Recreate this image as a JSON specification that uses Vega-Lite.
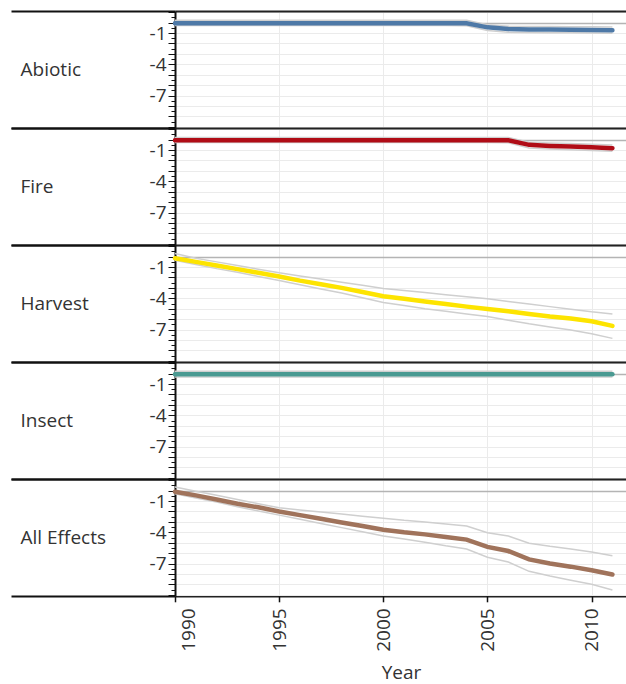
{
  "$schema": "https://vega.github.io/schema/vega-lite/v6.json",
  "padding": {"top": 10, "left": 9, "right": 0, "bottom": 0},
  "background": "white",
  "spacing": 0,
  "bounds": "flush",
  "config": {"view": {"stroke": null}, "concat": {"spacing": 0}},
  "data": {"values": [
    {"effect": "Abiotic", "year": 1990, "value": -0.05, "upper": 0.22, "lower": -0.28},
    {"effect": "Abiotic", "year": 1991, "value": -0.05, "upper": 0.22, "lower": -0.28},
    {"effect": "Abiotic", "year": 1992, "value": -0.05, "upper": 0.22, "lower": -0.28},
    {"effect": "Abiotic", "year": 1993, "value": -0.05, "upper": 0.22, "lower": -0.28},
    {"effect": "Abiotic", "year": 1994, "value": -0.05, "upper": 0.22, "lower": -0.28},
    {"effect": "Abiotic", "year": 1995, "value": -0.05, "upper": 0.22, "lower": -0.28},
    {"effect": "Abiotic", "year": 1996, "value": -0.05, "upper": 0.22, "lower": -0.28},
    {"effect": "Abiotic", "year": 1997, "value": -0.05, "upper": 0.22, "lower": -0.28},
    {"effect": "Abiotic", "year": 1998, "value": -0.05, "upper": 0.22, "lower": -0.28},
    {"effect": "Abiotic", "year": 1999, "value": -0.05, "upper": 0.22, "lower": -0.28},
    {"effect": "Abiotic", "year": 2000, "value": -0.05, "upper": 0.22, "lower": -0.28},
    {"effect": "Abiotic", "year": 2001, "value": -0.05, "upper": 0.22, "lower": -0.28},
    {"effect": "Abiotic", "year": 2002, "value": -0.05, "upper": 0.22, "lower": -0.28},
    {"effect": "Abiotic", "year": 2003, "value": -0.05, "upper": 0.22, "lower": -0.28},
    {"effect": "Abiotic", "year": 2004, "value": -0.05, "upper": 0.22, "lower": -0.3},
    {"effect": "Abiotic", "year": 2005, "value": -0.45, "upper": -0.2, "lower": -0.75},
    {"effect": "Abiotic", "year": 2006, "value": -0.62, "upper": -0.35, "lower": -0.92},
    {"effect": "Abiotic", "year": 2007, "value": -0.65, "upper": -0.37, "lower": -0.95},
    {"effect": "Abiotic", "year": 2008, "value": -0.66, "upper": -0.38, "lower": -0.96},
    {"effect": "Abiotic", "year": 2009, "value": -0.68, "upper": -0.39, "lower": -0.98},
    {"effect": "Abiotic", "year": 2010, "value": -0.7, "upper": -0.4, "lower": -1.0},
    {"effect": "Abiotic", "year": 2011, "value": -0.72, "upper": -0.42, "lower": -1.02},
    {"effect": "Fire", "year": 1990, "value": -0.05, "upper": 0.2, "lower": -0.28},
    {"effect": "Fire", "year": 1991, "value": -0.05, "upper": 0.2, "lower": -0.28},
    {"effect": "Fire", "year": 1992, "value": -0.05, "upper": 0.2, "lower": -0.28},
    {"effect": "Fire", "year": 1993, "value": -0.05, "upper": 0.2, "lower": -0.28},
    {"effect": "Fire", "year": 1994, "value": -0.05, "upper": 0.2, "lower": -0.28},
    {"effect": "Fire", "year": 1995, "value": -0.05, "upper": 0.2, "lower": -0.28},
    {"effect": "Fire", "year": 1996, "value": -0.05, "upper": 0.2, "lower": -0.28},
    {"effect": "Fire", "year": 1997, "value": -0.05, "upper": 0.2, "lower": -0.28},
    {"effect": "Fire", "year": 1998, "value": -0.05, "upper": 0.2, "lower": -0.28},
    {"effect": "Fire", "year": 1999, "value": -0.05, "upper": 0.2, "lower": -0.28},
    {"effect": "Fire", "year": 2000, "value": -0.05, "upper": 0.2, "lower": -0.28},
    {"effect": "Fire", "year": 2001, "value": -0.05, "upper": 0.2, "lower": -0.28},
    {"effect": "Fire", "year": 2002, "value": -0.05, "upper": 0.2, "lower": -0.28},
    {"effect": "Fire", "year": 2003, "value": -0.05, "upper": 0.2, "lower": -0.28},
    {"effect": "Fire", "year": 2004, "value": -0.05, "upper": 0.2, "lower": -0.28},
    {"effect": "Fire", "year": 2005, "value": -0.05, "upper": 0.2, "lower": -0.28},
    {"effect": "Fire", "year": 2006, "value": -0.05, "upper": 0.2, "lower": -0.3},
    {"effect": "Fire", "year": 2007, "value": -0.5, "upper": -0.25, "lower": -0.8},
    {"effect": "Fire", "year": 2008, "value": -0.6, "upper": -0.33, "lower": -0.9},
    {"effect": "Fire", "year": 2009, "value": -0.66, "upper": -0.38, "lower": -0.97},
    {"effect": "Fire", "year": 2010, "value": -0.74, "upper": -0.45, "lower": -1.05},
    {"effect": "Fire", "year": 2011, "value": -0.82, "upper": -0.52, "lower": -1.12},
    {"effect": "Harvest", "year": 1990, "value": -0.15, "upper": 0.3, "lower": -0.35},
    {"effect": "Harvest", "year": 1991, "value": -0.5, "upper": -0.15, "lower": -0.75},
    {"effect": "Harvest", "year": 1992, "value": -0.85, "upper": -0.5, "lower": -1.15},
    {"effect": "Harvest", "year": 1993, "value": -1.2, "upper": -0.85, "lower": -1.5},
    {"effect": "Harvest", "year": 1994, "value": -1.55, "upper": -1.2, "lower": -1.9},
    {"effect": "Harvest", "year": 1995, "value": -1.9, "upper": -1.55, "lower": -2.3},
    {"effect": "Harvest", "year": 1996, "value": -2.3, "upper": -1.85, "lower": -2.7},
    {"effect": "Harvest", "year": 1997, "value": -2.65, "upper": -2.15, "lower": -3.1},
    {"effect": "Harvest", "year": 1998, "value": -3.0, "upper": -2.45, "lower": -3.5},
    {"effect": "Harvest", "year": 1999, "value": -3.4, "upper": -2.75, "lower": -3.95},
    {"effect": "Harvest", "year": 2000, "value": -3.8, "upper": -3.05, "lower": -4.4},
    {"effect": "Harvest", "year": 2001, "value": -4.05, "upper": -3.25, "lower": -4.7},
    {"effect": "Harvest", "year": 2002, "value": -4.3, "upper": -3.45, "lower": -5.0},
    {"effect": "Harvest", "year": 2003, "value": -4.55, "upper": -3.65, "lower": -5.25},
    {"effect": "Harvest", "year": 2004, "value": -4.8, "upper": -3.85, "lower": -5.5},
    {"effect": "Harvest", "year": 2005, "value": -5.02, "upper": -4.05, "lower": -5.75},
    {"effect": "Harvest", "year": 2006, "value": -5.25, "upper": -4.3, "lower": -6.1},
    {"effect": "Harvest", "year": 2007, "value": -5.5, "upper": -4.55, "lower": -6.45},
    {"effect": "Harvest", "year": 2008, "value": -5.75, "upper": -4.8, "lower": -6.75},
    {"effect": "Harvest", "year": 2009, "value": -5.95, "upper": -5.05, "lower": -7.05},
    {"effect": "Harvest", "year": 2010, "value": -6.2, "upper": -5.3, "lower": -7.4},
    {"effect": "Harvest", "year": 2011, "value": -6.65, "upper": -5.5, "lower": -7.85},
    {"effect": "Insect", "year": 1990, "value": -0.05, "upper": 0.22, "lower": -0.32},
    {"effect": "Insect", "year": 1991, "value": -0.05, "upper": 0.22, "lower": -0.32},
    {"effect": "Insect", "year": 1992, "value": -0.05, "upper": 0.22, "lower": -0.32},
    {"effect": "Insect", "year": 1993, "value": -0.05, "upper": 0.22, "lower": -0.32},
    {"effect": "Insect", "year": 1994, "value": -0.05, "upper": 0.22, "lower": -0.32},
    {"effect": "Insect", "year": 1995, "value": -0.05, "upper": 0.22, "lower": -0.32},
    {"effect": "Insect", "year": 1996, "value": -0.05, "upper": 0.22, "lower": -0.32},
    {"effect": "Insect", "year": 1997, "value": -0.05, "upper": 0.22, "lower": -0.32},
    {"effect": "Insect", "year": 1998, "value": -0.05, "upper": 0.22, "lower": -0.32},
    {"effect": "Insect", "year": 1999, "value": -0.05, "upper": 0.22, "lower": -0.32},
    {"effect": "Insect", "year": 2000, "value": -0.05, "upper": 0.22, "lower": -0.32},
    {"effect": "Insect", "year": 2001, "value": -0.05, "upper": 0.22, "lower": -0.32},
    {"effect": "Insect", "year": 2002, "value": -0.05, "upper": 0.22, "lower": -0.32},
    {"effect": "Insect", "year": 2003, "value": -0.05, "upper": 0.22, "lower": -0.32},
    {"effect": "Insect", "year": 2004, "value": -0.05, "upper": 0.22, "lower": -0.32},
    {"effect": "Insect", "year": 2005, "value": -0.05, "upper": 0.22, "lower": -0.32},
    {"effect": "Insect", "year": 2006, "value": -0.05, "upper": 0.22, "lower": -0.32},
    {"effect": "Insect", "year": 2007, "value": -0.05, "upper": 0.22, "lower": -0.32},
    {"effect": "Insect", "year": 2008, "value": -0.05, "upper": 0.22, "lower": -0.32},
    {"effect": "Insect", "year": 2009, "value": -0.05, "upper": 0.22, "lower": -0.32},
    {"effect": "Insect", "year": 2010, "value": -0.05, "upper": 0.22, "lower": -0.32},
    {"effect": "Insect", "year": 2011, "value": -0.05, "upper": 0.22, "lower": -0.32},
    {"effect": "All Effects", "year": 1990, "value": -0.1, "upper": 0.35, "lower": -0.3},
    {"effect": "All Effects", "year": 1991, "value": -0.45, "upper": -0.05, "lower": -0.7},
    {"effect": "All Effects", "year": 1992, "value": -0.85, "upper": -0.45, "lower": -1.1},
    {"effect": "All Effects", "year": 1993, "value": -1.25, "upper": -0.85, "lower": -1.55},
    {"effect": "All Effects", "year": 1994, "value": -1.6, "upper": -1.25, "lower": -1.95},
    {"effect": "All Effects", "year": 1995, "value": -2.0, "upper": -1.65, "lower": -2.35},
    {"effect": "All Effects", "year": 1996, "value": -2.35, "upper": -1.85, "lower": -2.75},
    {"effect": "All Effects", "year": 1997, "value": -2.7, "upper": -2.05, "lower": -3.15},
    {"effect": "All Effects", "year": 1998, "value": -3.05, "upper": -2.25, "lower": -3.55},
    {"effect": "All Effects", "year": 1999, "value": -3.4, "upper": -2.45, "lower": -3.95},
    {"effect": "All Effects", "year": 2000, "value": -3.75, "upper": -2.65, "lower": -4.35},
    {"effect": "All Effects", "year": 2001, "value": -4.0, "upper": -2.85, "lower": -4.65},
    {"effect": "All Effects", "year": 2002, "value": -4.2, "upper": -3.0, "lower": -4.95},
    {"effect": "All Effects", "year": 2003, "value": -4.45, "upper": -3.2, "lower": -5.3},
    {"effect": "All Effects", "year": 2004, "value": -4.7, "upper": -3.4, "lower": -5.6},
    {"effect": "All Effects", "year": 2005, "value": -5.4, "upper": -4.05, "lower": -6.4},
    {"effect": "All Effects", "year": 2006, "value": -5.8, "upper": -4.35, "lower": -6.85},
    {"effect": "All Effects", "year": 2007, "value": -6.6, "upper": -5.05, "lower": -7.75},
    {"effect": "All Effects", "year": 2008, "value": -7.0, "upper": -5.35, "lower": -8.2},
    {"effect": "All Effects", "year": 2009, "value": -7.3, "upper": -5.6, "lower": -8.6},
    {"effect": "All Effects", "year": 2010, "value": -7.65, "upper": -5.9, "lower": -9.0},
    {"effect": "All Effects", "year": 2011, "value": -8.05, "upper": -6.25, "lower": -9.55}
  ]},
  "vconcat": [
    {
      "width": 452, "height": 116.8,
      "transform": [{"filter": "datum.effect === 'Abiotic'"}, {"fold": ["value", "lower", "upper"], "as": ["series", "v"]}],
      "encoding": {
        "x": {"field": "year", "type": "quantitative", "scale": {"domain": [1990, 2011.7], "nice": false, "zero": false},
          "axis": {"values": [1995, 2000, 2005, 2010], "labels": false, "ticks": false, "domain": false, "title": null, "grid": true, "gridColor": "#ebebeb", "minExtent": 0, "maxExtent": 0}},
        "y": {"field": "v", "type": "quantitative", "scale": {"domain": [-10.1, 1.12], "nice": false, "zero": false},
          "axis": {"title": "Abiotic", "titleAngle": 0, "titleAlign": "left", "titleBaseline": "middle", "titleX": -155, "titleY": 58, "titleFont": "Open Sans", "titleFontSize": 19, "titleFontWeight": "normal", "titleColor": "#333333",
            "values": [1.12, 1, 0.5, 0, -0.5, -1, -1.5, -2, -2.5, -3, -3.5, -4, -4.5, -5, -5.5, -6, -6.5, -7, -7.5, -8, -8.5, -9, -9.5, -10, -10.1],
            "labelExpr": "datum.value === -1 || datum.value === -4 || datum.value === -7 ? '-' + abs(datum.value) : ''",
            "labelFontSize": {"condition": {"test": "datum.value === -1 || datum.value === -4 || datum.value === -7", "value": 19}, "value": 0},
            "labelFont": "Open Sans", "labelColor": "#333333", "labelPadding": 2, "labelOverlap": false, "labelFlush": false,
            "domain": true, "domainColor": "#111111", "domainWidth": 2, "ticks": true, "tickColor": "#111111",
            "tickSize": {"condition": [{"test": "datum.value > 1.1 || datum.value < -10.05", "value": 164}, {"test": "datum.value % 1 === 0", "value": 7}], "value": 4},
            "tickWidth": {"condition": {"test": "datum.value > 1.1 || datum.value < -10.05", "value": 2}, "value": 1},
            "grid": true,
            "gridColor": {"condition": [{"test": "datum.value > 1.1 || datum.value < -10.05", "value": "#222222"}, {"test": "datum.value === 0", "value": "#b4b4b4"}], "value": "#ebebeb"},
            "gridWidth": {"condition": [{"test": "datum.value > 1.1 || datum.value < -10.05", "value": 2}, {"test": "datum.value === 0", "value": 1.5}], "value": 1},
            "gridOpacity": {"condition": {"test": "datum.value % 1 === 0 || datum.value > 1.1 || datum.value < -10.05", "value": 1}, "value": 0}}}
      },
      "layer": [
        {"transform": [{"filter": "datum.series !== 'value'"}], "mark": {"type": "line", "color": "#cfcfcf", "strokeWidth": 1.5}, "encoding": {"detail": {"field": "series"}}},
        {"transform": [{"filter": "datum.series === 'value'"}], "mark": {"type": "line", "strokeWidth": 4.5, "strokeCap": "round"},
          "encoding": {"color": {"field": "effect", "type": "nominal", "scale": {"domain": ["Abiotic", "Fire", "Harvest", "Insect", "All Effects"], "range": ["#4e79a7", "#b00c16", "#fde400", "#4a9a92", "#a0735b"]}, "legend": null}}}
      ]
    },
    {
      "width": 452, "height": 116.8,
      "transform": [{"filter": "datum.effect === 'Fire'"}, {"fold": ["value", "lower", "upper"], "as": ["series", "v"]}],
      "encoding": {
        "x": {"field": "year", "type": "quantitative", "scale": {"domain": [1990, 2011.7], "nice": false, "zero": false},
          "axis": {"values": [1995, 2000, 2005, 2010], "labels": false, "ticks": false, "domain": false, "title": null, "grid": true, "gridColor": "#ebebeb", "minExtent": 0, "maxExtent": 0}},
        "y": {"field": "v", "type": "quantitative", "scale": {"domain": [-10.1, 1.12], "nice": false, "zero": false},
          "axis": {"title": "Fire", "titleAngle": 0, "titleAlign": "left", "titleBaseline": "middle", "titleX": -155, "titleY": 58, "titleFont": "Open Sans", "titleFontSize": 19, "titleFontWeight": "normal", "titleColor": "#333333",
            "values": [1.12, 1, 0.5, 0, -0.5, -1, -1.5, -2, -2.5, -3, -3.5, -4, -4.5, -5, -5.5, -6, -6.5, -7, -7.5, -8, -8.5, -9, -9.5, -10, -10.1],
            "labelExpr": "datum.value === -1 || datum.value === -4 || datum.value === -7 ? '-' + abs(datum.value) : ''",
            "labelFontSize": {"condition": {"test": "datum.value === -1 || datum.value === -4 || datum.value === -7", "value": 19}, "value": 0},
            "labelFont": "Open Sans", "labelColor": "#333333", "labelPadding": 2, "labelOverlap": false, "labelFlush": false,
            "domain": true, "domainColor": "#111111", "domainWidth": 2, "ticks": true, "tickColor": "#111111",
            "tickSize": {"condition": [{"test": "datum.value > 1.1 || datum.value < -10.05", "value": 164}, {"test": "datum.value % 1 === 0", "value": 7}], "value": 4},
            "tickWidth": {"condition": {"test": "datum.value > 1.1 || datum.value < -10.05", "value": 2}, "value": 1},
            "grid": true,
            "gridColor": {"condition": [{"test": "datum.value > 1.1 || datum.value < -10.05", "value": "#222222"}, {"test": "datum.value === 0", "value": "#b4b4b4"}], "value": "#ebebeb"},
            "gridWidth": {"condition": [{"test": "datum.value > 1.1 || datum.value < -10.05", "value": 2}, {"test": "datum.value === 0", "value": 1.5}], "value": 1},
            "gridOpacity": {"condition": {"test": "datum.value % 1 === 0 || datum.value > 1.1 || datum.value < -10.05", "value": 1}, "value": 0}}}
      },
      "layer": [
        {"transform": [{"filter": "datum.series !== 'value'"}], "mark": {"type": "line", "color": "#cfcfcf", "strokeWidth": 1.5}, "encoding": {"detail": {"field": "series"}}},
        {"transform": [{"filter": "datum.series === 'value'"}], "mark": {"type": "line", "strokeWidth": 4.5, "strokeCap": "round"},
          "encoding": {"color": {"field": "effect", "type": "nominal", "scale": {"domain": ["Abiotic", "Fire", "Harvest", "Insect", "All Effects"], "range": ["#4e79a7", "#b00c16", "#fde400", "#4a9a92", "#a0735b"]}, "legend": null}}}
      ]
    },
    {
      "width": 452, "height": 116.8,
      "transform": [{"filter": "datum.effect === 'Harvest'"}, {"fold": ["value", "lower", "upper"], "as": ["series", "v"]}],
      "encoding": {
        "x": {"field": "year", "type": "quantitative", "scale": {"domain": [1990, 2011.7], "nice": false, "zero": false},
          "axis": {"values": [1995, 2000, 2005, 2010], "labels": false, "ticks": false, "domain": false, "title": null, "grid": true, "gridColor": "#ebebeb", "minExtent": 0, "maxExtent": 0}},
        "y": {"field": "v", "type": "quantitative", "scale": {"domain": [-10.1, 1.12], "nice": false, "zero": false},
          "axis": {"title": "Harvest", "titleAngle": 0, "titleAlign": "left", "titleBaseline": "middle", "titleX": -155, "titleY": 58, "titleFont": "Open Sans", "titleFontSize": 19, "titleFontWeight": "normal", "titleColor": "#333333",
            "values": [1.12, 1, 0.5, 0, -0.5, -1, -1.5, -2, -2.5, -3, -3.5, -4, -4.5, -5, -5.5, -6, -6.5, -7, -7.5, -8, -8.5, -9, -9.5, -10, -10.1],
            "labelExpr": "datum.value === -1 || datum.value === -4 || datum.value === -7 ? '-' + abs(datum.value) : ''",
            "labelFontSize": {"condition": {"test": "datum.value === -1 || datum.value === -4 || datum.value === -7", "value": 19}, "value": 0},
            "labelFont": "Open Sans", "labelColor": "#333333", "labelPadding": 2, "labelOverlap": false, "labelFlush": false,
            "domain": true, "domainColor": "#111111", "domainWidth": 2, "ticks": true, "tickColor": "#111111",
            "tickSize": {"condition": [{"test": "datum.value > 1.1 || datum.value < -10.05", "value": 164}, {"test": "datum.value % 1 === 0", "value": 7}], "value": 4},
            "tickWidth": {"condition": {"test": "datum.value > 1.1 || datum.value < -10.05", "value": 2}, "value": 1},
            "grid": true,
            "gridColor": {"condition": [{"test": "datum.value > 1.1 || datum.value < -10.05", "value": "#222222"}, {"test": "datum.value === 0", "value": "#b4b4b4"}], "value": "#ebebeb"},
            "gridWidth": {"condition": [{"test": "datum.value > 1.1 || datum.value < -10.05", "value": 2}, {"test": "datum.value === 0", "value": 1.5}], "value": 1},
            "gridOpacity": {"condition": {"test": "datum.value % 1 === 0 || datum.value > 1.1 || datum.value < -10.05", "value": 1}, "value": 0}}}
      },
      "layer": [
        {"transform": [{"filter": "datum.series !== 'value'"}], "mark": {"type": "line", "color": "#cfcfcf", "strokeWidth": 1.5}, "encoding": {"detail": {"field": "series"}}},
        {"transform": [{"filter": "datum.series === 'value'"}], "mark": {"type": "line", "strokeWidth": 4.5, "strokeCap": "round"},
          "encoding": {"color": {"field": "effect", "type": "nominal", "scale": {"domain": ["Abiotic", "Fire", "Harvest", "Insect", "All Effects"], "range": ["#4e79a7", "#b00c16", "#fde400", "#4a9a92", "#a0735b"]}, "legend": null}}}
      ]
    },
    {
      "width": 452, "height": 116.8,
      "transform": [{"filter": "datum.effect === 'Insect'"}, {"fold": ["value", "lower", "upper"], "as": ["series", "v"]}],
      "encoding": {
        "x": {"field": "year", "type": "quantitative", "scale": {"domain": [1990, 2011.7], "nice": false, "zero": false},
          "axis": {"values": [1995, 2000, 2005, 2010], "labels": false, "ticks": false, "domain": false, "title": null, "grid": true, "gridColor": "#ebebeb", "minExtent": 0, "maxExtent": 0}},
        "y": {"field": "v", "type": "quantitative", "scale": {"domain": [-10.1, 1.12], "nice": false, "zero": false},
          "axis": {"title": "Insect", "titleAngle": 0, "titleAlign": "left", "titleBaseline": "middle", "titleX": -155, "titleY": 58, "titleFont": "Open Sans", "titleFontSize": 19, "titleFontWeight": "normal", "titleColor": "#333333",
            "values": [1.12, 1, 0.5, 0, -0.5, -1, -1.5, -2, -2.5, -3, -3.5, -4, -4.5, -5, -5.5, -6, -6.5, -7, -7.5, -8, -8.5, -9, -9.5, -10, -10.1],
            "labelExpr": "datum.value === -1 || datum.value === -4 || datum.value === -7 ? '-' + abs(datum.value) : ''",
            "labelFontSize": {"condition": {"test": "datum.value === -1 || datum.value === -4 || datum.value === -7", "value": 19}, "value": 0},
            "labelFont": "Open Sans", "labelColor": "#333333", "labelPadding": 2, "labelOverlap": false, "labelFlush": false,
            "domain": true, "domainColor": "#111111", "domainWidth": 2, "ticks": true, "tickColor": "#111111",
            "tickSize": {"condition": [{"test": "datum.value > 1.1 || datum.value < -10.05", "value": 164}, {"test": "datum.value % 1 === 0", "value": 7}], "value": 4},
            "tickWidth": {"condition": {"test": "datum.value > 1.1 || datum.value < -10.05", "value": 2}, "value": 1},
            "grid": true,
            "gridColor": {"condition": [{"test": "datum.value > 1.1 || datum.value < -10.05", "value": "#222222"}, {"test": "datum.value === 0", "value": "#b4b4b4"}], "value": "#ebebeb"},
            "gridWidth": {"condition": [{"test": "datum.value > 1.1 || datum.value < -10.05", "value": 2}, {"test": "datum.value === 0", "value": 1.5}], "value": 1},
            "gridOpacity": {"condition": {"test": "datum.value % 1 === 0 || datum.value > 1.1 || datum.value < -10.05", "value": 1}, "value": 0}}}
      },
      "layer": [
        {"transform": [{"filter": "datum.series !== 'value'"}], "mark": {"type": "line", "color": "#cfcfcf", "strokeWidth": 1.5}, "encoding": {"detail": {"field": "series"}}},
        {"transform": [{"filter": "datum.series === 'value'"}], "mark": {"type": "line", "strokeWidth": 4.5, "strokeCap": "round"},
          "encoding": {"color": {"field": "effect", "type": "nominal", "scale": {"domain": ["Abiotic", "Fire", "Harvest", "Insect", "All Effects"], "range": ["#4e79a7", "#b00c16", "#fde400", "#4a9a92", "#a0735b"]}, "legend": null}}}
      ]
    },
    {
      "width": 452, "height": 116.8,
      "transform": [{"filter": "datum.effect === 'All Effects'"}, {"fold": ["value", "lower", "upper"], "as": ["series", "v"]}],
      "encoding": {
        "x": {"field": "year", "type": "quantitative", "scale": {"domain": [1990, 2011.7], "nice": false, "zero": false},
          "axis": {"values": [1990, 1995, 2000, 2005, 2010], "format": "d", "labelAngle": 270, "labelFont": "Open Sans", "labelFontSize": 19, "labelColor": "#333333", "labelPadding": 6,
            "labelOffset": {"condition": {"test": "datum.value === 1990", "value": 13}, "value": 0},
            "labelOverlap": false, "labelFlush": false,
            "ticks": true, "tickSize": 6, "tickColor": "#111111", "tickWidth": 1.5, "domain": false,
            "grid": true, "gridColor": "#ebebeb", "gridOpacity": {"condition": {"test": "datum.value === 1990", "value": 0}, "value": 1},
            "title": "Year", "titleFont": "Open Sans", "titleFontSize": 19, "titleFontWeight": "normal", "titleColor": "#333333", "titlePadding": 12}},
        "y": {"field": "v", "type": "quantitative", "scale": {"domain": [-10.1, 1.12], "nice": false, "zero": false},
          "axis": {"title": "All Effects", "titleAngle": 0, "titleAlign": "left", "titleBaseline": "middle", "titleX": -155, "titleY": 58, "titleFont": "Open Sans", "titleFontSize": 19, "titleFontWeight": "normal", "titleColor": "#333333",
            "values": [1.12, 1, 0.5, 0, -0.5, -1, -1.5, -2, -2.5, -3, -3.5, -4, -4.5, -5, -5.5, -6, -6.5, -7, -7.5, -8, -8.5, -9, -9.5, -10, -10.1],
            "labelExpr": "datum.value === -1 || datum.value === -4 || datum.value === -7 ? '-' + abs(datum.value) : ''",
            "labelFontSize": {"condition": {"test": "datum.value === -1 || datum.value === -4 || datum.value === -7", "value": 19}, "value": 0},
            "labelFont": "Open Sans", "labelColor": "#333333", "labelPadding": 2, "labelOverlap": false, "labelFlush": false,
            "domain": true, "domainColor": "#111111", "domainWidth": 2, "ticks": true, "tickColor": "#111111",
            "tickSize": {"condition": [{"test": "datum.value > 1.1 || datum.value < -10.05", "value": 164}, {"test": "datum.value % 1 === 0", "value": 7}], "value": 4},
            "tickWidth": {"condition": {"test": "datum.value > 1.1 || datum.value < -10.05", "value": 2}, "value": 1},
            "grid": true,
            "gridColor": {"condition": [{"test": "datum.value > 1.1 || datum.value < -10.05", "value": "#222222"}, {"test": "datum.value === 0", "value": "#b4b4b4"}], "value": "#ebebeb"},
            "gridWidth": {"condition": [{"test": "datum.value > 1.1 || datum.value < -10.05", "value": 2}, {"test": "datum.value === 0", "value": 1.5}], "value": 1},
            "gridOpacity": {"condition": {"test": "datum.value % 1 === 0 || datum.value > 1.1 || datum.value < -10.05", "value": 1}, "value": 0}}}
      },
      "layer": [
        {"transform": [{"filter": "datum.series !== 'value'"}], "mark": {"type": "line", "color": "#cfcfcf", "strokeWidth": 1.5}, "encoding": {"detail": {"field": "series"}}},
        {"transform": [{"filter": "datum.series === 'value'"}], "mark": {"type": "line", "strokeWidth": 4.5, "strokeCap": "round"},
          "encoding": {"color": {"field": "effect", "type": "nominal", "scale": {"domain": ["Abiotic", "Fire", "Harvest", "Insect", "All Effects"], "range": ["#4e79a7", "#b00c16", "#fde400", "#4a9a92", "#a0735b"]}, "legend": null}}}
      ]
    }
  ]
}
